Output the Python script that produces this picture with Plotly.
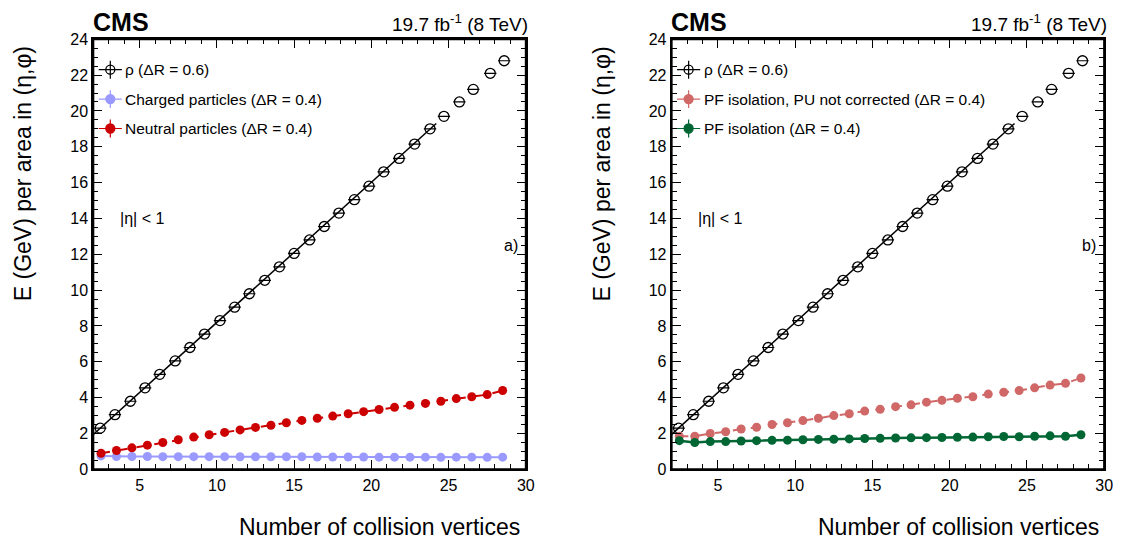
import plotly.graph_objects as go

nvtx = [2.5 + i for i in range(27)]
rho_x = [2.45, 3.4, 4.4, 5.35, 6.3, 7.3, 8.25, 9.2, 10.2, 11.15, 12.1, 13.1, 14.05, 15.0, 16.0,
         16.95, 17.9, 18.9, 19.85, 20.8, 21.8, 22.8, 23.8, 24.7, 25.7, 26.6, 27.7, 28.6]
rho = [2.3, 3.05, 3.8, 4.55, 5.3, 6.05, 6.8, 7.55, 8.3, 9.05, 9.8, 10.55, 11.3, 12.05, 12.8,
       13.55, 14.3, 15.05, 15.8, 16.6, 17.35, 18.15, 19.0, 19.7, 20.5, 21.2, 22.1, 22.8]
rho_fit_x = [2.0, 24.2]
rho_fit_y = [1.95, 19.3]
charged = [0.75, 0.72, 0.72, 0.72, 0.71, 0.71, 0.71, 0.71, 0.71, 0.70, 0.70, 0.70, 0.70, 0.70, 0.69,
           0.69, 0.69, 0.69, 0.68, 0.68, 0.68, 0.68, 0.67, 0.68, 0.68, 0.67, 0.68]
neutral = [0.9, 1.05, 1.2, 1.35, 1.5, 1.65, 1.8, 1.93, 2.06, 2.2, 2.34, 2.46, 2.6, 2.73, 2.85,
           2.97, 3.1, 3.22, 3.34, 3.46, 3.58, 3.68, 3.8, 3.95, 4.05, 4.17, 4.4]
pf_nocorr = [1.85, 1.85, 2.0, 2.1, 2.25, 2.35, 2.5, 2.6, 2.72, 2.85, 3.0, 3.1, 3.25, 3.35, 3.5,
             3.6, 3.75, 3.85, 3.97, 4.05, 4.2, 4.3, 4.4, 4.55, 4.7, 4.8, 5.1]
pf_iso = [1.6, 1.5, 1.55, 1.55, 1.58, 1.6, 1.62, 1.63, 1.65, 1.67, 1.68, 1.7, 1.72, 1.73, 1.75,
          1.76, 1.77, 1.78, 1.79, 1.8, 1.82, 1.83, 1.82, 1.85, 1.87, 1.85, 1.93]

FONT = "Liberation Sans, Arial, sans-serif"
fig = go.Figure()

def add_panel(xa, ya, extra):
    fig.add_trace(go.Scatter(x=rho_fit_x, y=rho_fit_y, mode="lines", xaxis=xa, yaxis=ya,
                             line=dict(color="black", width=1.5), showlegend=False))
    fig.add_trace(go.Scatter(x=rho_x, y=rho, mode="markers", xaxis=xa, yaxis=ya,
                             error_x=dict(type="constant", value=0.4, color="black", thickness=1.2, width=0),
                             marker=dict(symbol="circle-open", color="black", size=10, line=dict(width=1.3)),
                             showlegend=False))
    for vals, col, dash, lw in extra:
        fig.add_trace(go.Scatter(x=nvtx, y=vals, mode="lines+markers", xaxis=xa, yaxis=ya,
                                 line=dict(color=col, width=lw, dash=dash),
                                 marker=dict(color=col, size=9), showlegend=False))

add_panel("x", "y", [(charged, "#9999ff", "solid", 2), (neutral, "#cc0000", "dash", 2)])
add_panel("x2", "y2", [(pf_nocorr, "#d06868", "dash", 2), (pf_iso, "#006633", "solid", 2.5)])

y0, y1 = 1 - 468 / 543, 1 - 24 / 543
doms = [(86 / 1121, 522 / 1121), (669 / 1121, 1105 / 1121)]
axis_common = dict(showline=True, linecolor="black", linewidth=2, mirror="allticks", ticks="inside",
                   ticklen=9, tickwidth=1.2, tickcolor="black", showgrid=False, zeroline=False,
                   tickfont=dict(family=FONT, size=16, color="black"))
layout = dict(plot_bgcolor="white", paper_bgcolor="white", width=1121, height=543,
              margin=dict(l=0, r=0, t=0, b=0), font=dict(family=FONT, color="black"))
for i, (d0, d1) in enumerate(doms):
    sx = "" if i == 0 else "2"
    layout["xaxis" + sx] = dict(axis_common, domain=[d0, d1], range=[2, 30], dtick=5,
                                minor=dict(ticks="inside", dtick=1, ticklen=5, tickcolor="black"),
                                anchor="y" + sx)
    layout["yaxis" + sx] = dict(axis_common, domain=[y0, y1], range=[0, 24], dtick=2,
                                minor=dict(ticks="inside", dtick=0.5, ticklen=5, tickcolor="black"),
                                anchor="x" + sx)
fig.update_layout(**layout)

legends = [
    [("ρ (ΔR = 0.6)", "black", "circle-open"),
     ("Charged particles (ΔR = 0.4)", "#9999ff", "circle"),
     ("Neutral particles (ΔR = 0.4)", "#cc0000", "circle")],
    [("ρ (ΔR = 0.6)", "black", "circle-open"),
     ("PF isolation, PU not corrected (ΔR = 0.4)", "#d06868", "circle"),
     ("PF isolation (ΔR = 0.4)", "#006633", "circle")],
]
for i, (d0, d1) in enumerate(doms):
    xa = "x" if i == 0 else "x2"
    ya = "y" if i == 0 else "y2"
    for j, (txt, col, sym) in enumerate(legends[i]):
        ly = 22.3 - j * 1.64
        fig.add_annotation(x=3.95, y=ly, xref=xa, yref=ya,
                           text=txt, showarrow=False, xanchor="left", yanchor="middle",
                           font=dict(family=FONT, size=15.5, color="black"))
        fig.add_trace(go.Scatter(x=[3.1], y=[ly], mode="markers", xaxis=xa, yaxis=ya,
                                 error_x=dict(type="constant", value=0.75, color=col, thickness=1.2, width=0),
                                 error_y=dict(type="constant", value=0.5, color=col, thickness=1.2, width=0),
                                 marker=dict(symbol=sym, color=col, size=9, line=dict(width=1.3, color=col)),
                                 showlegend=False))
    fig.add_annotation(x=3.6, y=14.0, xref=xa, yref=ya, text="|η| < 1",
                       showarrow=False, xanchor="left", yanchor="middle", font=dict(family=FONT, size=16))
    fig.add_annotation(x=29.6, y=12.5, xref=xa, yref=ya,
                       text="a)" if i == 0 else "b)",
                       showarrow=False, xanchor="right", yanchor="middle", font=dict(family=FONT, size=16))
    fig.add_annotation(x=d0 - 0.002, y=y1 + 0.002, xref="paper", yref="paper", text="<b>CMS</b>",
                       showarrow=False, xanchor="left", yanchor="bottom", font=dict(family=FONT, size=25))
    fig.add_annotation(x=d1 + 0.004, y=y1 + 0.004, xref="paper", yref="paper",
                       text="19.7 fb<sup>-1</sup> (8 TeV)", showarrow=False, xanchor="right",
                       yanchor="bottom", font=dict(family=FONT, size=19))
    fig.add_annotation(x=d1 - 0.003, y=0.0, xref="paper", yref="paper", text="Number of collision vertices",
                       showarrow=False, xanchor="right", yanchor="bottom", font=dict(family=FONT, size=23))
    fig.add_annotation(x=d0 - 0.063, y=y1 - 0.01, xref="paper", yref="paper", text="E (GeV) per area in (η,φ)",
                       showarrow=False, textangle=-90, xanchor="center", yanchor="top",
                       font=dict(family=FONT, size=23))
    fig.add_shape(type="rect", xref="paper", yref="paper", x0=d0, x1=d1, y0=y0, y1=y1,
                  line=dict(color="black", width=2))

fig.write_html("out.html")
